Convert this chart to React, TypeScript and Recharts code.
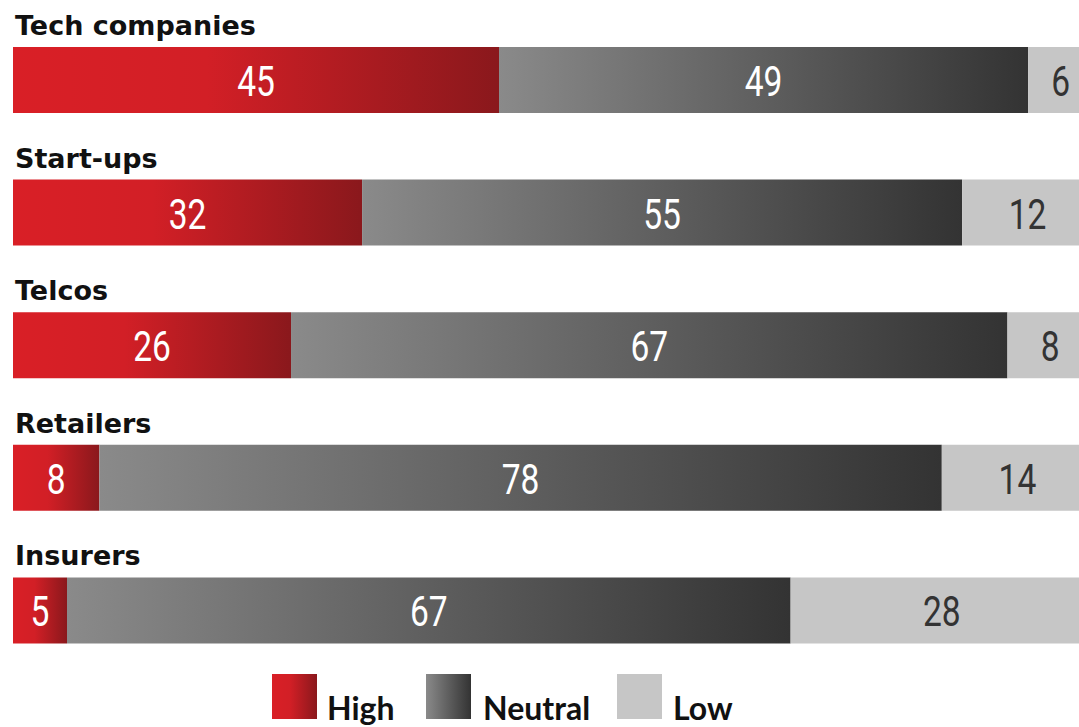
import React from 'react';
import { BarChart, Bar, XAxis, YAxis, LabelList } from 'recharts';

const categories = ['Tech companies', 'Start-ups', 'Telcos', 'Retailers', 'Insurers'];
const highValues = [45, 32, 26, 8, 5];
const neutralValues = [49, 55, 67, 78, 67];
const lowValues = [6, 12, 8, 14, 28];
const seriesNames = ['High', 'Neutral', 'Low'];

const data = categories.map((name, i) => ({
  name,
  high: highValues[i],
  neutral: neutralValues[i],
  low: lowValues[i],
}));

const NUM_FONT = 'Roboto, "DejaVu Sans", sans-serif';
const CAT_FONT = '"DejaVu Sans", sans-serif';
const LEG_FONT = 'Lato, "Open Sans", sans-serif';

const makeNumLabel = (color: string) => (props: any) => {
  const { x, y, width, height, value } = props;
  const cx = Number(x) + Number(width) / 2;
  const cy = Number(y) + Number(height) / 2 + 16;
  return (
    <text
      transform={`translate(${cx},${cy}) scale(0.78,1)`}
      x={0}
      y={0}
      textAnchor="middle"
      fill={color}
      fontFamily={NUM_FONT}
      fontSize={43}
    >
      {value}
    </text>
  );
};

const CatLabel = (props: any) => {
  const { x, y, value } = props;
  return (
    <text
      x={Number(x) + 2}
      y={Number(y) - 12}
      fill="#111"
      fontFamily={CAT_FONT}
      fontWeight="bold"
      fontSize={27}
    >
      {value}
    </text>
  );
};

const legendItems = [
  { name: seriesNames[0], fill: 'linear-gradient(to right, #d91f26 0%, #d21f26 40%, #8a181c 100%)', sq: 272, tx: 327 },
  { name: seriesNames[1], fill: 'linear-gradient(to right, #8a8a8a, #333333)', sq: 426, tx: 483 },
  { name: seriesNames[2], fill: '#c6c6c6', sq: 617, tx: 673 },
];

export default function App() {
  return (
    <div style={{ position: 'fixed', left: 0, top: 0, width: 1079, height: 727, overflow: 'hidden', background: '#fff' }}>
      <div style={{ position: 'absolute', left: 0, top: 0 }}>
        <BarChart
          width={1093}
          height={727}
          data={data}
          layout="vertical"
          stackOffset="expand"
          margin={{ top: 14, right: 0, bottom: 50, left: 13 }}
          barCategoryGap={0}
        >
          <defs>
            <linearGradient id="gHigh" x1="0" y1="0" x2="1" y2="0">
              <stop offset="0%" stopColor="#d91f26" />
              <stop offset="40%" stopColor="#d21f26" />
              <stop offset="100%" stopColor="#8a181c" />
            </linearGradient>
            <linearGradient id="gNeutral" x1="0" y1="0" x2="1" y2="0">
              <stop offset="0%" stopColor="#8a8a8a" />
              <stop offset="100%" stopColor="#333333" />
            </linearGradient>
          </defs>
          <XAxis type="number" domain={[0, 1]} hide />
          <YAxis type="category" dataKey="name" hide />
          <Bar dataKey="high" stackId="a" fill="url(#gHigh)" barSize={66} isAnimationActive={false}>
            <LabelList dataKey="name" content={CatLabel} />
            <LabelList dataKey="high" content={makeNumLabel('#ffffff')} />
          </Bar>
          <Bar dataKey="neutral" stackId="a" fill="url(#gNeutral)" barSize={66} isAnimationActive={false}>
            <LabelList dataKey="neutral" content={makeNumLabel('#ffffff')} />
          </Bar>
          <Bar dataKey="low" stackId="a" fill="#c6c6c6" barSize={66} isAnimationActive={false}>
            <LabelList dataKey="low" content={makeNumLabel('#333333')} />
          </Bar>
        </BarChart>
      </div>
      {legendItems.map((it) => (
        <React.Fragment key={it.name}>
          <div
            style={{
              position: 'absolute',
              left: it.sq,
              top: 674,
              width: 45,
              height: 45,
              background: it.fill,
            }}
          />
          <div
            style={{
              position: 'absolute',
              left: it.tx,
              top: 688,
              fontFamily: LEG_FONT,
              fontWeight: 700,
              fontSize: 32,
              lineHeight: '40px',
              color: '#111',
            }}
          >
            {it.name}
          </div>
        </React.Fragment>
      ))}
    </div>
  );
}
